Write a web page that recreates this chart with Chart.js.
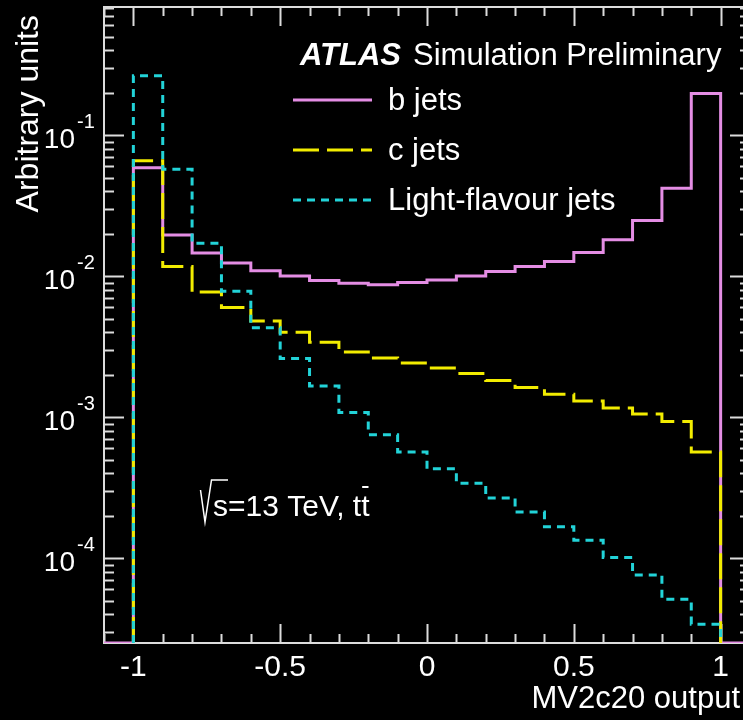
<!DOCTYPE html>
<html lang="en">
<head>
  <meta charset="UTF-8">
  <title>MV2c20 output</title>
  <script src="https://cdn.jsdelivr.net/npm/chart.js"></script>
  <style>
    html, body {
      margin: 0;
      padding: 0;
      background-color: #000;
      overflow: hidden;
    }

    canvas {
      display: block;
      background-color: #000;
    }
  </style>
</head>
<body>

  <canvas id="mvChart" width="752" height="720"></canvas>

  <script>
    // bin low edges, last bin ends at 1
    const binEdges = [-1.0, -0.9, -0.8, -0.7, -0.6, -0.5, -0.4, -0.3, -0.2, -0.1,
                      0.0, 0.1, 0.2, 0.3, 0.4, 0.5, 0.6, 0.7, 0.8, 0.9];
    const lastEdge = 1.0;

    const bJets = [0.0587, 0.0196, 0.0146, 0.0124, 0.0109, 0.0100, 0.0093, 0.0089, 0.0087, 0.0090,
                   0.0094, 0.0100, 0.0108, 0.0117, 0.0127, 0.0147, 0.0181, 0.0248, 0.042, 0.197];
    const cJets = [0.0658, 0.0117, 0.0077, 0.0060, 0.0048, 0.0040, 0.0034, 0.0029, 0.00263, 0.00242,
                   0.00223, 0.00204, 0.00182, 0.00162, 0.00145, 0.0013, 0.00116, 0.00105, 0.00093, 0.000565];
    const lightJets = [0.264, 0.0572, 0.0171, 0.0078, 0.0043, 0.0026, 0.00166, 0.00108, 0.00075, 0.000565,
                       0.00043, 0.00034, 0.000267, 0.000212, 0.000167, 0.000134, 0.000101, 0.000076, 0.000051, 0.000034];

    const xTickLabels = [-1, -0.5, 0, 0.5, 1];
    const yTickLabels = [-1, -2, -3, -4];   // exponents of the decades

    const X_MIN = -1.1, X_MAX = 1.1;
    const Y_MIN = 2.5e-5, Y_MAX = 0.81;

    const PINK = "#e48de4";
    const YELLOW = "#f2ec00";
    const CYAN = "#22d3d8";
    const FONT = "'Liberation Sans', Arial, sans-serif";

    // turn bin contents into step points (empty bins sit on the floor)
    function histPoints(values, outer) {
      const pts = [];
      if (outer) pts.push({ x: X_MIN, y: Y_MIN });
      else pts.push({ x: binEdges[0], y: Y_MIN });
      values.forEach((v, i) => pts.push({ x: binEdges[i], y: v }));
      pts.push({ x: lastEdge, y: Y_MIN });
      if (outer) pts.push({ x: X_MAX, y: Y_MIN });
      return pts;
    }

    const legendItems = [
      { text: "b jets", color: PINK, dash: [] },
      { text: "c jets", color: YELLOW, dash: [26, 8] },
      { text: "Light-flavour jets", color: CYAN, dash: [8, 6] }
    ];

    const frameAndTicks = {
      id: "frameAndTicks",
      beforeDatasetsDraw(chart) {
        const { ctx, chartArea: a, scales: { x, y } } = chart;
        ctx.save();
        ctx.strokeStyle = "#dcdcdc";
        ctx.lineWidth = 2;
        ctx.strokeRect(a.left, a.top, a.right - a.left, a.bottom - a.top);

        ctx.beginPath();
        // log ticks on left and right
        for (let k = -5; k <= 0; k++) {
          for (let m = 1; m <= 9; m++) {
            const v = m * Math.pow(10, k);
            if (v < Y_MIN || v > Y_MAX) continue;
            const py = Math.round(y.getPixelForValue(v)) + 0.5;
            const len = m === 1 ? 20 : 10;
            ctx.moveTo(a.left, py); ctx.lineTo(a.left + len, py);
            ctx.moveTo(a.right, py); ctx.lineTo(a.right - len, py);
          }
        }
        // linear ticks on bottom and top
        for (let i = -11; i <= 11; i++) {
          const v = i / 10;
          const px = Math.round(x.getPixelForValue(v)) + 0.5;
          const len = i % 5 === 0 ? 19 : 9;
          ctx.moveTo(px, a.bottom); ctx.lineTo(px, a.bottom - len);
          ctx.moveTo(px, a.top); ctx.lineTo(px, a.top + len);
        }
        ctx.stroke();
        ctx.restore();
      },
      afterDraw(chart) {
        const { ctx, chartArea: a, scales: { x, y } } = chart;
        ctx.save();
        ctx.fillStyle = "#fff";

        // x tick labels
        ctx.font = "30px " + FONT;
        ctx.textAlign = "center";
        ctx.textBaseline = "alphabetic";
        xTickLabels.forEach(v => {
          ctx.fillText(String(v), x.getPixelForValue(v), 676);
        });

        // y tick labels, 10 with a raised exponent
        yTickLabels.forEach(e => {
          const py = y.getPixelForValue(Math.pow(10, e));
          ctx.font = "28px " + FONT;
          ctx.textAlign = "right";
          ctx.fillText("10", 75, py + 13);
          ctx.font = "20px " + FONT;
          ctx.textAlign = "left";
          ctx.fillText(String(e), 77, py - 7);
        });

        // axis titles
        ctx.font = "31px " + FONT;
        ctx.textAlign = "right";
        ctx.fillText("MV2c20 output", 740, 708);

        ctx.save();
        ctx.translate(38, 15);
        ctx.rotate(-Math.PI / 2);
        ctx.textAlign = "right";
        ctx.font = "32px " + FONT;
        ctx.fillText("Arbitrary units", 0, 0);
        ctx.restore();

        // ATLAS label
        ctx.textAlign = "left";
        ctx.font = "italic bold 31px " + FONT;
        ctx.fillText("ATLAS", 300, 65);
        ctx.font = "31px " + FONT;
        ctx.fillText("Simulation Preliminary", 413, 65);

        // legend
        ctx.font = "31px " + FONT;
        legendItems.forEach((item, i) => {
          const ly = 100 + i * 50;
          ctx.save();
          ctx.strokeStyle = item.color;
          ctx.lineWidth = 3;
          ctx.setLineDash(item.dash);
          ctx.beginPath();
          ctx.moveTo(293, ly);
          ctx.lineTo(372, ly);
          ctx.stroke();
          ctx.restore();
          ctx.fillText(item.text, 388, ly + 10);
        });

        // sqrt(s)=13 TeV, ttbar
        ctx.strokeStyle = "#fff";
        ctx.lineWidth = 1.5;
        ctx.beginPath();
        ctx.moveTo(200.5, 490);
        ctx.lineTo(205, 522);
        ctx.lineTo(211.5, 480);
        ctx.lineTo(228, 480);
        ctx.stroke();
        const energyText = "s=13 TeV, tt";
        ctx.font = "30px " + FONT;
        ctx.fillText(energyText, 213, 516);
        const wAll = ctx.measureText(energyText).width;
        const wT = ctx.measureText("t").width;
        ctx.lineWidth = 2;
        ctx.beginPath();
        ctx.moveTo(213 + wAll - wT + 1, 487);
        ctx.lineTo(213 + wAll - 1, 487);
        ctx.stroke();

        ctx.restore();
      }
    };

    const ctx = document.getElementById("mvChart").getContext("2d");
    new Chart(ctx, {
      type: "line",
      data: {
        datasets: [
          {
            label: "b jets",
            data: histPoints(bJets, true),
            borderColor: PINK,
            borderWidth: 3,
            stepped: true,
            pointRadius: 0,
            order: 3
          },
          {
            label: "c jets",
            data: histPoints(cJets, false),
            borderColor: YELLOW,
            borderWidth: 3,
            borderDash: [26, 8],
            stepped: true,
            pointRadius: 0,
            order: 2
          },
          {
            label: "Light-flavour jets",
            data: histPoints(lightJets, false),
            borderColor: CYAN,
            borderWidth: 3,
            borderDash: [8, 6],
            stepped: true,
            pointRadius: 0,
            order: 1
          }
        ]
      },
      options: {
        responsive: false,
        animation: false,
        devicePixelRatio: 1,
        layout: {
          padding: { top: 7, right: 2, left: 0, bottom: 0 }
        },
        plugins: {
          legend: { display: false },
          tooltip: { enabled: false }
        },
        scales: {
          x: {
            type: "linear",
            min: X_MIN,
            max: X_MAX,
            grid: { display: false },
            border: { display: false },
            ticks: { display: false },
            afterFit: scale => { scale.height = 77; }
          },
          y: {
            type: "logarithmic",
            min: Y_MIN,
            max: Y_MAX,
            grid: { display: false },
            border: { display: false },
            ticks: { display: false },
            afterFit: scale => { scale.width = 104; }
          }
        }
      },
      plugins: [frameAndTicks]
    });
  </script>
</body>
</html>
